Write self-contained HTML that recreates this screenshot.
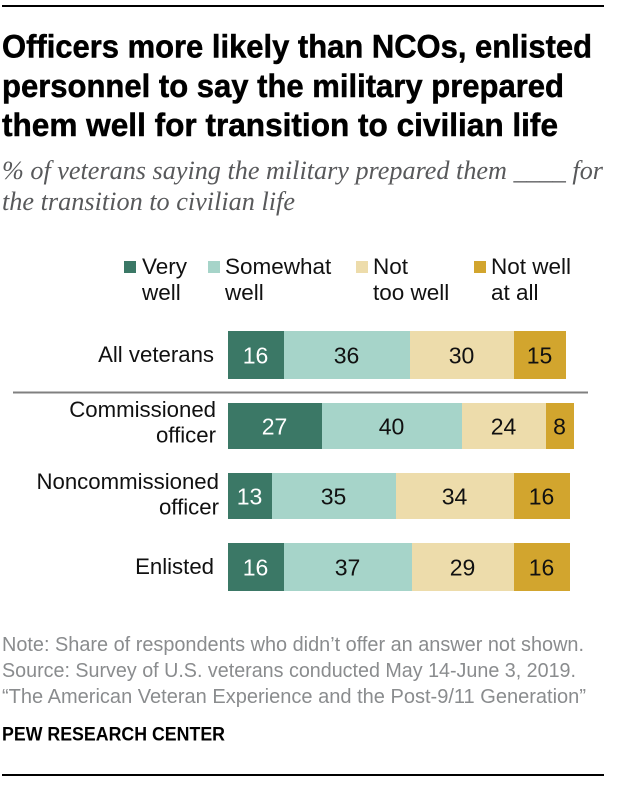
<!DOCTYPE html>
<html lang="en">
<head>
<meta charset="utf-8">
<title>Officers more likely than NCOs</title>
<style>
html,body{margin:0;padding:0;background:#fff;width:626px;height:786px;overflow:hidden}
svg{display:block}
text{font-family:"Liberation Sans",sans-serif}
.title{font-size:32.5px;font-weight:bold;fill:#000;stroke:#000;stroke-width:.5px}
.sub{font-family:"Liberation Serif",serif;font-style:italic;font-size:26px;fill:#58595b}
.leg{font-size:22.5px;fill:#111}
.cat{font-size:22.2px;fill:#111}
.val{font-size:23px;text-anchor:middle}
.note{font-size:20px;fill:#8a8c8e}
</style>
</head>
<body>
<svg id="chart" width="626" height="786" viewBox="0 0 626 786" xmlns="http://www.w3.org/2000/svg">
  <rect x="2" y="5" width="602" height="2" fill="#000"/>
  <text class="title" x="2" y="57.5" textLength="590" lengthAdjust="spacingAndGlyphs">Officers more likely than NCOs, enlisted</text>
  <text class="title" x="2" y="97" textLength="562" lengthAdjust="spacingAndGlyphs">personnel to say the military prepared</text>
  <text class="title" x="2" y="136" textLength="556" lengthAdjust="spacingAndGlyphs">them well for transition to civilian life</text>
  <text class="sub" x="2" y="179" textLength="601" lengthAdjust="spacingAndGlyphs">% of veterans saying the military prepared them ____ for</text>
  <text class="sub" x="2" y="210" textLength="293" lengthAdjust="spacingAndGlyphs">the transition to civilian life</text>

  <g id="legend"></g>
  <g id="bars"></g>

  <rect x="13" y="391.5" width="575" height="2" fill="#808080"/>

  <text class="note" x="2" y="651" textLength="582" lengthAdjust="spacingAndGlyphs">Note: Share of respondents who didn’t offer an answer not shown.</text>
  <text class="note" x="2" y="677" textLength="574" lengthAdjust="spacingAndGlyphs">Source: Survey of U.S. veterans conducted May 14-June 3, 2019.</text>
  <text class="note" x="2" y="703" textLength="584" lengthAdjust="spacingAndGlyphs">“The American Veteran Experience and the Post-9/11 Generation”</text>
  <text x="2" y="740.5" font-size="19" font-weight="bold" fill="#000" textLength="223" lengthAdjust="spacingAndGlyphs">PEW RESEARCH CENTER</text>
  <rect x="2" y="774" width="602" height="2" fill="#000"/>
</svg>
<script>
const categories = [["All veterans"], ["Commissioned", "officer"], ["Noncommissioned", "officer"], ["Enlisted"]];
const seriesNames = [["Very", "well"], ["Somewhat", "well"], ["Not", "too well"], ["Not well", "at all"]];
const veryWell = [16, 27, 13, 16];
const somewhatWell = [36, 40, 35, 37];
const notTooWell = [30, 24, 34, 29];
const notWellAtAll = [15, 8, 16, 16];

const NS = 'http://www.w3.org/2000/svg';
const series = [veryWell, somewhatWell, notTooWell, notWellAtAll];
const colors = ['#3b7866', '#a6d4c9', '#eddcab', '#d2a52e'];
const textColors = ['#fff', '#111', '#111', '#111'];
const rowTops = [331, 403, 473, 543];
const rowHeights = [48, 46, 46, 48];
const labelRight = [214, 216, 219, 214];
const labelBaseline = [362, 417, 489, 574];
const legendSwatchX = [124, 208, 356, 474];
const legendTextX = [142, 225, 373, 491];

const xScale = v => 228 + 2 * Math.floor(v * 3.5 / 2);

function make(tag, attrs, text) {
  const el = document.createElementNS(NS, tag);
  for (const k in attrs) el.setAttribute(k, attrs[k]);
  if (text !== undefined) el.textContent = text;
  return el;
}

const legend = document.getElementById('legend');
seriesNames.forEach((lines, s) => {
  const swatch = make('rect', {x: legendSwatchX[s], y: 261, width: 12, height: 12, fill: colors[s]});
  
  
  legend.appendChild(swatch);
  lines.forEach((line, i) => {
    const t = make('text', {x: legendTextX[s], y: 274 + i * 26, 'class': 'leg'}, line);
    
    
    legend.appendChild(t);
  });
});

const bars = document.getElementById('bars');
categories.forEach((lines, r) => {
  const top = rowTops[r];
  const h = rowHeights[r];
  const mid = top + h / 2;
  lines.forEach((line, i) => {
    const t = make('text', {x: labelRight[r], y: labelBaseline[r] + i * 25.5, 'class': 'cat', 'text-anchor': 'end'}, line);
    
    
    bars.appendChild(t);
  });
  let cum = 0;
  series.forEach((values, s) => {
    const v = values[r];
    const x0 = xScale(cum);
    const x1 = xScale(cum + v);
    const rect = make('rect', {x: x0, y: top, width: x1 - x0, height: h, fill: colors[s]});
    
    
    bars.appendChild(rect);
    const t = make('text', {x: (x0 + x1) / 2 - 0.5, y: mid + 8.5, 'class': 'val', fill: textColors[s]}, String(v));
    
    
    bars.appendChild(t);
    cum += v;
  });
});
</script>
</body>
</html>
